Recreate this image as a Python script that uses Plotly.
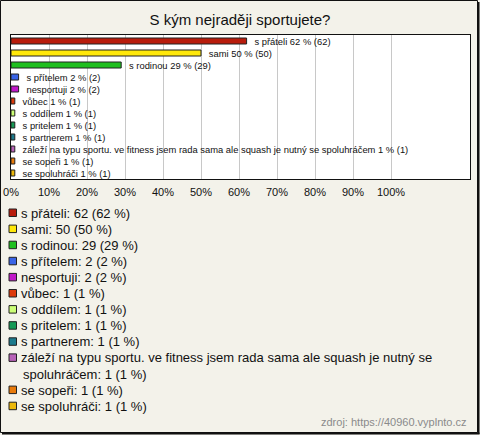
import plotly.graph_objects as go

# ---- data ----
categories = ["s přáteli", "sami", "s rodinou", "s přítelem", "nesportuji", "vůbec",
              "s oddílem", "s pritelem", "s partnerem",
              "záleží na typu sportu. ve fitness jsem rada sama ale squash je nutný se spoluhráčem",
              "se sopeři", "se spoluhráči"]
counts = [62, 50, 29, 2, 2, 1, 1, 1, 1, 1, 1, 1]
percents = [62, 50, 29, 2, 2, 1, 1, 1, 1, 1, 1, 1]
colors = ["#b81c0c", "#ffe80a", "#1fbf1f", "#3a64e6", "#c018c8", "#dd3a0a",
          "#ccff77", "#159955", "#1c7a8c", "#b862b8", "#e87a0a", "#ecb80a"]
tick_values = [0, 10, 20, 30, 40, 50, 60, 70, 80, 90, 100]
title_text = "S kým nejraději sportujete?"
source_text = "zdroj: https://40960.vyplnto.cz"

W, H = 480, 435
L, R, T, B = 11, 470, 35, 179
PW, PH = R - L, B - T
FONT = "Liberation Sans, Arial, sans-serif"


def px_x(x):
    return (x - L) / PW


def px_y(y):
    return (B - y) / PH


bar_text = ["\u00a0\u00a0\u00a0%s %d %% (%d)" % (c, p, n) for c, p, n in zip(categories, percents, counts)]

fig = go.Figure(go.Bar(
    y=categories, x=percents, orientation="h",
    marker=dict(color=colors, line=dict(color="#222222", width=1)),
    width=0.5,
    text=bar_text, textposition="outside", constraintext="none", cliponaxis=False,
    textfont=dict(size=9.4, color="#111111", family=FONT),
    hoverinfo="skip",
))

annotations = []
shapes = []

# legend (as text rows with colour squares)
row = 0
y0 = 213
step = 16.1
for c, p, n, col in zip(categories, percents, counts, colors):
    label = "%s: %d (%d %%)" % (c, n, p)
    yc = y0 + row * step
    shapes.append(dict(type="rect", xref="paper", yref="paper",
                       x0=px_x(9), x1=px_x(16.5), y0=px_y(yc - 4), y1=px_y(yc + 3.5),
                       fillcolor=col, line=dict(color="#222222", width=1)))
    if len(label) > 70:
        words = label.split(" ")
        first = " ".join(words[:14])
        second = " ".join(words[14:])
        annotations.append(dict(text=first, xref="paper", yref="paper", x=px_x(19), y=px_y(yc),
                                xanchor="left", yanchor="middle", showarrow=False,
                                font=dict(size=13, color="#111111", family=FONT)))
        row += 1
        yc = y0 + row * step
        annotations.append(dict(text=second, xref="paper", yref="paper", x=px_x(21), y=px_y(yc),
                                xanchor="left", yanchor="middle", showarrow=False,
                                font=dict(size=13, color="#111111", family=FONT)))
    else:
        annotations.append(dict(text=label, xref="paper", yref="paper", x=px_x(19), y=px_y(yc),
                                xanchor="left", yanchor="middle", showarrow=False,
                                font=dict(size=13, color="#111111", family=FONT)))
    row += 1

annotations.append(dict(text=source_text, xref="paper", yref="paper", x=px_x(469), y=px_y(422),
                        xanchor="right", yanchor="middle", showarrow=False,
                        font=dict(size=11, color="#8a8a8a", family=FONT)))

# outer frame
shapes.append(dict(type="rect", xref="paper", yref="paper", layer="above",
                   x0=px_x(0.5), x1=px_x(477.5), y0=px_y(432.5), y1=px_y(0.5),
                   line=dict(color="#111111", width=1)))
shapes.append(dict(type="line", xref="paper", yref="paper", layer="above",
                   x0=px_x(478.5), x1=px_x(478.5), y0=px_y(2), y1=px_y(434),
                   line=dict(color="#111111", width=2)))
shapes.append(dict(type="line", xref="paper", yref="paper", layer="above",
                   x0=px_x(2), x1=px_x(479.5), y0=px_y(433.5), y1=px_y(433.5),
                   line=dict(color="#111111", width=2)))

fig.update_layout(
    width=W, height=H,
    margin=dict(l=L, r=W - R, t=T, b=H - B, pad=0, autoexpand=False),
    paper_bgcolor="#f3f2ea",
    plot_bgcolor="#ffffff",
    showlegend=False,
    title=dict(text=title_text, x=0.5, xref="container", xanchor="center",
               y=1 - 20 / H, yref="container", yanchor="middle",
               font=dict(size=15, color="#111111", family=FONT)),
    font=dict(family=FONT),
    annotations=annotations,
    shapes=shapes,
    bargap=0.5,
)

fig.update_xaxes(range=[0, PW / 3.8], tickvals=tick_values,
                 ticktext=["%d%%" % v for v in tick_values], automargin=False,
                 showgrid=True, gridcolor="#c8c8c8", gridwidth=1, zeroline=False,
                 showline=True, mirror=True, linecolor="#111111", linewidth=1,
                 ticks="outside", ticklen=3, tickcolor="rgba(0,0,0,0)",
                 tickfont=dict(size=11, color="#111111", family=FONT), fixedrange=True)
fig.update_yaxes(type="category", autorange="reversed", showticklabels=False, automargin=False,
                 showgrid=False, zeroline=False,
                 showline=True, mirror=True, linecolor="#111111", linewidth=1, fixedrange=True)

fig.write_html("out.html", config={"displayModeBar": False},
               post_script="document.body.style.margin='0';document.body.style.overflow='hidden';")
